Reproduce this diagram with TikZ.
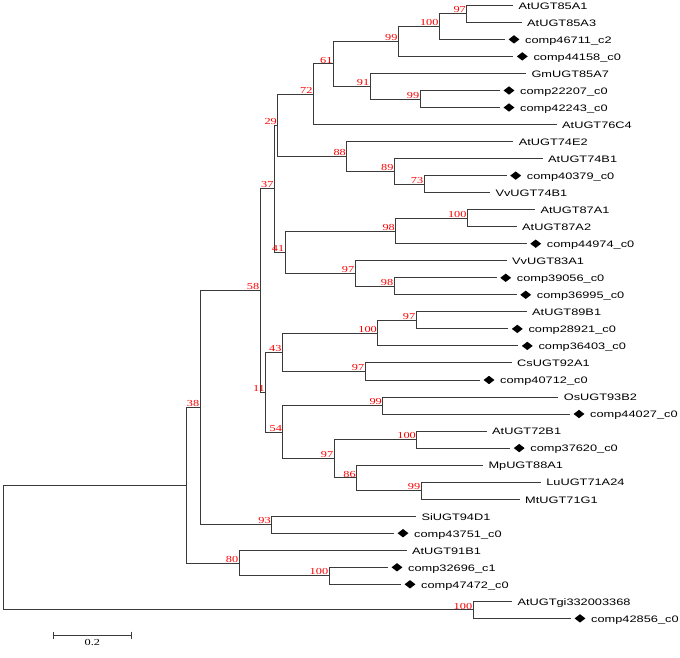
\documentclass[tikz,border=0pt]{standalone}
\usepackage{fontspec}
\newfontfamily\leaffont[FakeStretch=1.36]{Liberation Sans}
\newfontfamily\bootfont[FakeStretch=1.34]{Liberation Serif}
\usetikzlibrary{shapes.geometric}
\definecolor{treeline}{HTML}{3A3A3A}
\tikzset{
  branch/.style={draw=treeline, line width=0.9pt},
  leaftext/.style={font=\leaffont\fontsize{9.4pt}{11pt}\selectfont, anchor=base west, inner sep=0pt, yshift=-3.8pt},
  plainleaf/.style={leaftext, xshift=5.3pt},
  markedleaf/.style={leaftext, xshift=20pt},
  dia/.style={diamond, fill=black, draw=none, inner sep=0pt, minimum width=11pt, minimum height=8.5pt, xshift=9pt},
  boot/.style={font=\bootfont\fontsize{9.2pt}{10pt}\selectfont, text=red, anchor=south east, inner sep=0.6pt},
}
\begin{document}
\begin{tikzpicture}[x=1pt,y=-1pt]
\useasboundingbox (0,0) rectangle (680,658);

% ---- leaves (line end points) ----
\coordinate (l0) at (513,5.3);    \node[plainleaf] (t0) at (l0) {AtUGT85A1};
\coordinate (l1) at (521.7,22.3); \node[plainleaf] (t1) at (l1) {AtUGT85A3};
\coordinate (l2) at (505,39.4);   \node[dia] (d2) at (l2) {}; \node[markedleaf] (t2) at (l2) {comp46711\_c2};
\coordinate (l3) at (513.3,56.4); \node[dia] (d3) at (l3) {}; \node[markedleaf] (t3) at (l3) {comp44158\_c0};
\coordinate (l4) at (526,73.4);   \node[plainleaf] (t4) at (l4) {GmUGT85A7};
\coordinate (l5) at (500,90.5);   \node[dia] (d5) at (l5) {}; \node[markedleaf] (t5) at (l5) {comp22207\_c0};
\coordinate (l6) at (500,107.5);  \node[dia] (d6) at (l6) {}; \node[markedleaf] (t6) at (l6) {comp42243\_c0};
\coordinate (l7) at (556.7,124.5);\node[plainleaf] (t7) at (l7) {AtUGT76C4};
\coordinate (l8) at (513.3,141.5);\node[plainleaf] (t8) at (l8) {AtUGT74E2};
\coordinate (l9) at (542.7,158.6);\node[plainleaf] (t9) at (l9) {AtUGT74B1};
\coordinate (l10) at (506.7,175.6);\node[dia] (d10) at (l10) {}; \node[markedleaf] (t10) at (l10) {comp40379\_c0};
\coordinate (l11) at (490,192.6); \node[plainleaf] (t11) at (l11) {VvUGT74B1};
\coordinate (l12) at (535,209.7); \node[plainleaf] (t12) at (l12) {AtUGT87A1};
\coordinate (l13) at (516.7,226.7);\node[plainleaf] (t13) at (l13) {AtUGT87A2};
\coordinate (l14) at (526.7,243.7);\node[dia] (d14) at (l14) {}; \node[markedleaf] (t14) at (l14) {comp44974\_c0};
\coordinate (l15) at (506.7,260.8);\node[plainleaf] (t15) at (l15) {VvUGT83A1};
\coordinate (l16) at (496.7,277.8);\node[dia] (d16) at (l16) {}; \node[markedleaf] (t16) at (l16) {comp39056\_c0};
\coordinate (l17) at (516.7,294.8);\node[dia] (d17) at (l17) {}; \node[markedleaf] (t17) at (l17) {comp36995\_c0};
\coordinate (l18) at (526.7,311.8);\node[plainleaf] (t18) at (l18) {AtUGT89B1};
\coordinate (l19) at (508.3,328.9);\node[dia] (d19) at (l19) {}; \node[markedleaf] (t19) at (l19) {comp28921\_c0};
\coordinate (l20) at (518.3,345.9);\node[dia] (d20) at (l20) {}; \node[markedleaf] (t20) at (l20) {comp36403\_c0};
\coordinate (l21) at (511.7,362.9);\node[plainleaf] (t21) at (l21) {CsUGT92A1};
\coordinate (l22) at (480,380.0); \node[dia] (d22) at (l22) {}; \node[markedleaf] (t22) at (l22) {comp40712\_c0};
\coordinate (l23) at (558.3,397.0);\node[plainleaf] (t23) at (l23) {OsUGT93B2};
\coordinate (l24) at (570,414.0); \node[dia] (d24) at (l24) {}; \node[markedleaf] (t24) at (l24) {comp44027\_c0};
\coordinate (l25) at (486.7,431.1);\node[plainleaf] (t25) at (l25) {AtUGT72B1};
\coordinate (l26) at (510.2,448.1);\node[dia] (d26) at (l26) {}; \node[markedleaf] (t26) at (l26) {comp37620\_c0};
\coordinate (l27) at (483,465.1); \node[plainleaf] (t27) at (l27) {MpUGT88A1};
\coordinate (l28) at (540.8,482.1);\node[plainleaf] (t28) at (l28) {LuUGT71A24};
\coordinate (l29) at (519.7,499.2);\node[plainleaf] (t29) at (l29) {MtUGT71G1};
\coordinate (l30) at (416,516.2); \node[plainleaf] (t30) at (l30) {SiUGT94D1};
\coordinate (l31) at (394,533.2); \node[dia] (d31) at (l31) {}; \node[markedleaf] (t31) at (l31) {comp43751\_c0};
\coordinate (l32) at (406.5,550.3);\node[plainleaf] (t32) at (l32) {AtUGT91B1};
\coordinate (l33) at (388,567.3); \node[dia] (d33) at (l33) {}; \node[markedleaf] (t33) at (l33) {comp32696\_c1};
\coordinate (l34) at (401,584.3); \node[dia] (d34) at (l34) {}; \node[markedleaf] (t34) at (l34) {comp47472\_c0};
\coordinate (l35) at (512,601.4); \node[plainleaf] (t35) at (l35) {AtUGTgi332003368};
\coordinate (l36) at (571,618.4); \node[dia] (d36) at (l36) {}; \node[markedleaf] (t36) at (l36) {comp42856\_c0};

% ---- internal nodes ----
\coordinate (n97a) at (466.7,13.8);
\coordinate (n100a) at (439.3,26.6);
\coordinate (n99a) at (398.3,41.5);
\coordinate (n99b) at (420,99.0);
\coordinate (n91) at (370,86.2);
\coordinate (n61) at (333.3,63.9);
\coordinate (n72) at (313.3,94.2);
\coordinate (n73) at (424,184.1);
\coordinate (n89) at (394.3,171.4);
\coordinate (n88) at (346.7,156.5);
\coordinate (n29) at (277.7,125.3);
\coordinate (n100b) at (467.3,218.2);
\coordinate (n98a) at (395.7,231.0);
\coordinate (n98b) at (394,286.3);
\coordinate (n97b) at (355,273.6);
\coordinate (n41) at (285,252.3);
\coordinate (n37) at (274.3,188.8);
\coordinate (n97c) at (416,320.4);
\coordinate (n100c) at (377.7,333.1);
\coordinate (n97d) at (365,371.5);
\coordinate (n43) at (282.3,352.3);
\coordinate (n99c) at (382.7,405.5);
\coordinate (n100d) at (416.7,439.6);
\coordinate (n99d) at (421,490.7);
\coordinate (n86) at (356.6,477.9);
\coordinate (n97e) at (334,458.8);
\coordinate (n54) at (282.8,432.2);
\coordinate (n11) at (265.7,392.2);
\coordinate (n58) at (260,290.5);
\coordinate (n93) at (271.6,524.7);
\coordinate (n38) at (200,407.6);
\coordinate (n100e) at (329,575.8);
\coordinate (n80) at (239,563.1);
\coordinate (nX) at (186,485.3);
\coordinate (n100f) at (473,609.9);
\coordinate (root) at (3,547.6);

% ---- branches ----
\foreach \p/\c in {n97a/l0, n97a/l1, n100a/n97a, n100a/l2, n99a/n100a, n99a/l3,
  n99b/l5, n99b/l6, n91/l4, n91/n99b, n61/n99a, n61/n91, n72/n61, n72/l7,
  n73/l10, n73/l11, n89/l9, n89/n73, n88/l8, n88/n89, n29/n72, n29/n88,
  n100b/l12, n100b/l13, n98a/n100b, n98a/l14, n98b/l16, n98b/l17, n97b/l15, n97b/n98b,
  n41/n98a, n41/n97b, n37/n29, n37/n41,
  n97c/l18, n97c/l19, n100c/n97c, n100c/l20, n97d/l21, n97d/l22, n43/n100c, n43/n97d,
  n99c/l23, n99c/l24, n100d/l25, n100d/l26, n99d/l28, n99d/l29, n86/l27, n86/n99d,
  n97e/n100d, n97e/n86, n54/n99c, n54/n97e, n11/n43, n11/n54, n58/n37, n58/n11,
  n93/l30, n93/l31, n38/n58, n38/n93, n100e/l33, n100e/l34, n80/l32, n80/n100e,
  nX/n38, nX/n80, n100f/l35, n100f/l36, root/nX, root/n100f}
  \draw[branch] (\p) |- (\c);

% ---- bootstrap values ----
\node[boot] (b97a) at (n97a) {97};
\node[boot] (b100a) at (n100a) {100};
\node[boot] (b99a) at (n99a) {99};
\node[boot] (b99b) at (n99b) {99};
\node[boot] (b91) at (n91) {91};
\node[boot] (b61) at (n61) {61};
\node[boot] (b72) at (n72) {72};
\node[boot] (b73) at (n73) {73};
\node[boot] (b89) at (n89) {89};
\node[boot] (b88) at (n88) {88};
\node[boot] (b29) at (n29) {29};
\node[boot] (b100b) at (n100b) {100};
\node[boot] (b98a) at (n98a) {98};
\node[boot] (b98b) at (n98b) {98};
\node[boot] (b97b) at (n97b) {97};
\node[boot] (b41) at (n41) {41};
\node[boot] (b37) at (n37) {37};
\node[boot] (b97c) at (n97c) {97};
\node[boot] (b100c) at (n100c) {100};
\node[boot] (b97d) at (n97d) {97};
\node[boot] (b43) at (n43) {43};
\node[boot] (b99c) at (n99c) {99};
\node[boot] (b100d) at (n100d) {100};
\node[boot] (b99d) at (n99d) {99};
\node[boot] (b86) at (n86) {86};
\node[boot] (b97e) at (n97e) {97};
\node[boot] (b54) at (n54) {54};
\node[boot] (b11) at (n11) {11};
\node[boot] (b58) at (n58) {58};
\node[boot] (b93) at (n93) {93};
\node[boot] (b38) at (n38) {38};
\node[boot] (b100e) at (n100e) {100};
\node[boot] (b80) at (n80) {80};
\node[boot] (b100f) at (n100f) {100};

% ---- scale bar ----
\coordinate (sb1) at (53.2,635);
\coordinate (sb2) at (131.6,635);
\draw[branch] (sb1) -- (sb2);
\draw[branch] (sb1) ++(0,-3.5) -- ++(0,7);
\draw[branch] (sb2) ++(0,-3.5) -- ++(0,7);
\node[font=\bootfont\fontsize{9.2pt}{10pt}\selectfont, anchor=north, inner sep=0pt] (sblabel) at (92.4,639.5) {0.2};
\end{tikzpicture}
\end{document}
